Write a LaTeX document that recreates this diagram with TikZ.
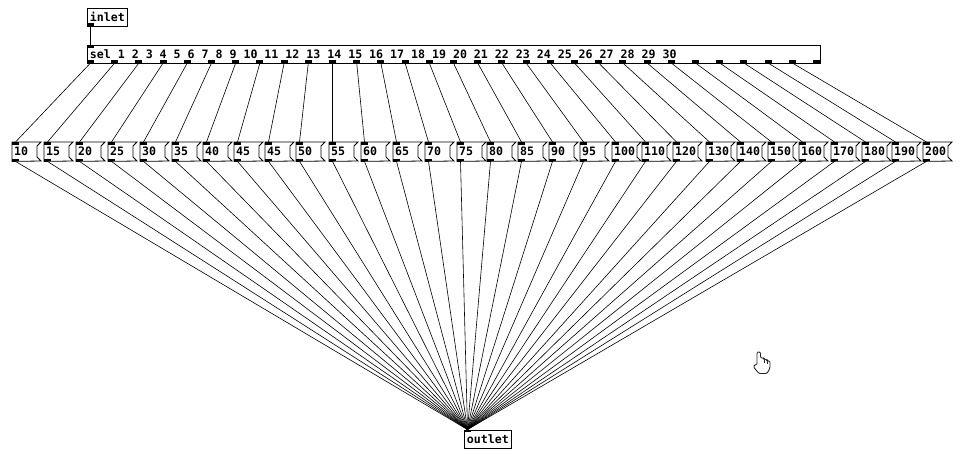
\documentclass[tikz,border=0pt]{standalone}
\usepackage{fontspec}
\setmonofont{DejaVu Sans Mono}
\usetikzlibrary{calc}

\newcommand{\pdfont}{\ttfamily\bfseries\fontsize{11.6}{12}\selectfont}

\tikzset{
  pdobj/.style={draw, line width=0.8pt, anchor=north west, inner xsep=2.5pt, inner ysep=0pt,
                minimum height=18, font=\pdfont},
  pdmsg/.style={anchor=north west, inner xsep=2pt, inner ysep=0pt, minimum height=19,
                text width=21, font=\pdfont, align=left},
  pdwire/.style={line width=0.6pt},
  pdedge/.style={line width=0.8pt}
}

\begin{document}
\begin{tikzpicture}[x=1pt, y=-1pt]

    % --- CANVAS ---
    % pixel grid, y grows downwards
    \fill[white] (0,0) rectangle (965,459);
    \useasboundingbox (0,0) rectangle (965,459);

    % --- OBJECT BOXES ---
    \node[pdobj] (inlet) at (87,7.5) {inlet};
    \node[pdobj] (sel) at (87,45)
        {\makebox[728pt][l]{sel 1 2 3 4 5 6 7 8 9 10 11 12 13 14 15 16 17 18 19 20 21 22 23 24 25 26 27 28 29 30}};
    \node[pdobj] (outlet) at (464,429.5) {outlet};

    % inlet / outlet tabs of the objects
    \fill (inlet.south west) rectangle ++(7,-3);
    \fill (sel.north west) rectangle ++(7,3);
    \fill (outlet.north west) rectangle ++(7,2.5);

    % 31 outlets of sel (last one is the reject outlet)
    \foreach \k in {0,...,30} {
        \pgfmathsetmacro\ox{87+\k*24.2}
        \fill (\ox,63) rectangle ++(7,-3);
        \coordinate (s\k) at (\ox+3.5,63);
    }

    % --- MESSAGE BOXES ---
    \foreach \lab/\px [count=\i from 0] in {10/12,15/44,20/76,25/108,30/140,35/172,40/203,
            45/234,45/265,50/296,55/329,60/361,65/393,70/425,75/457,80/487,85/518,90/549,
            95/580,100/612,110/642,120/673,130/706,140/737,150/768,160/799,170/831,
            180/862,190/892,200/923} {
        \node[pdmsg] (m\i) at (\px,142) {\lab};
        \draw[pdedge] (m\i.north west) -- ++(29,0) -- ++(-4,4) -- ++(0,11) -- ++(4,4)
            -- (m\i.south west) -- cycle;
        \fill (m\i.north west) rectangle ++(7,2.5);
        \fill (m\i.south west) rectangle ++(7,-2.5);
    }

    % --- CONNECTIONS ---
    \draw[pdwire] ([xshift=3.5pt]inlet.south west) -- ([xshift=3.5pt]sel.north west);
    \foreach \i in {0,...,29} {
        \draw[pdwire] (s\i) -- ([xshift=3.5pt]m\i.north west);
        \draw[pdwire] ([xshift=3.5pt]m\i.south west) -- ([xshift=3.5pt]outlet.north west);
    }

    % --- MOUSE POINTER ---
    \draw[line width=0.9pt, fill=white, draw=black!85, rounded corners=1.2pt]
        (757,365) -- (757,352) -- (760.5,352) -- (760.5,358) -- (764,358) -- (764,359.5)
        -- (767,359.5) -- (767,361) -- (770,361) -- (770,368) -- (767,373.5) -- (759,373.5)
        -- (753.5,367) -- (754.5,364.5) -- cycle;
    \draw[line width=0.7pt, draw=black!85] (764,359.5) -- (764,363) (767,361) -- (767,364);

\end{tikzpicture}
\end{document}
